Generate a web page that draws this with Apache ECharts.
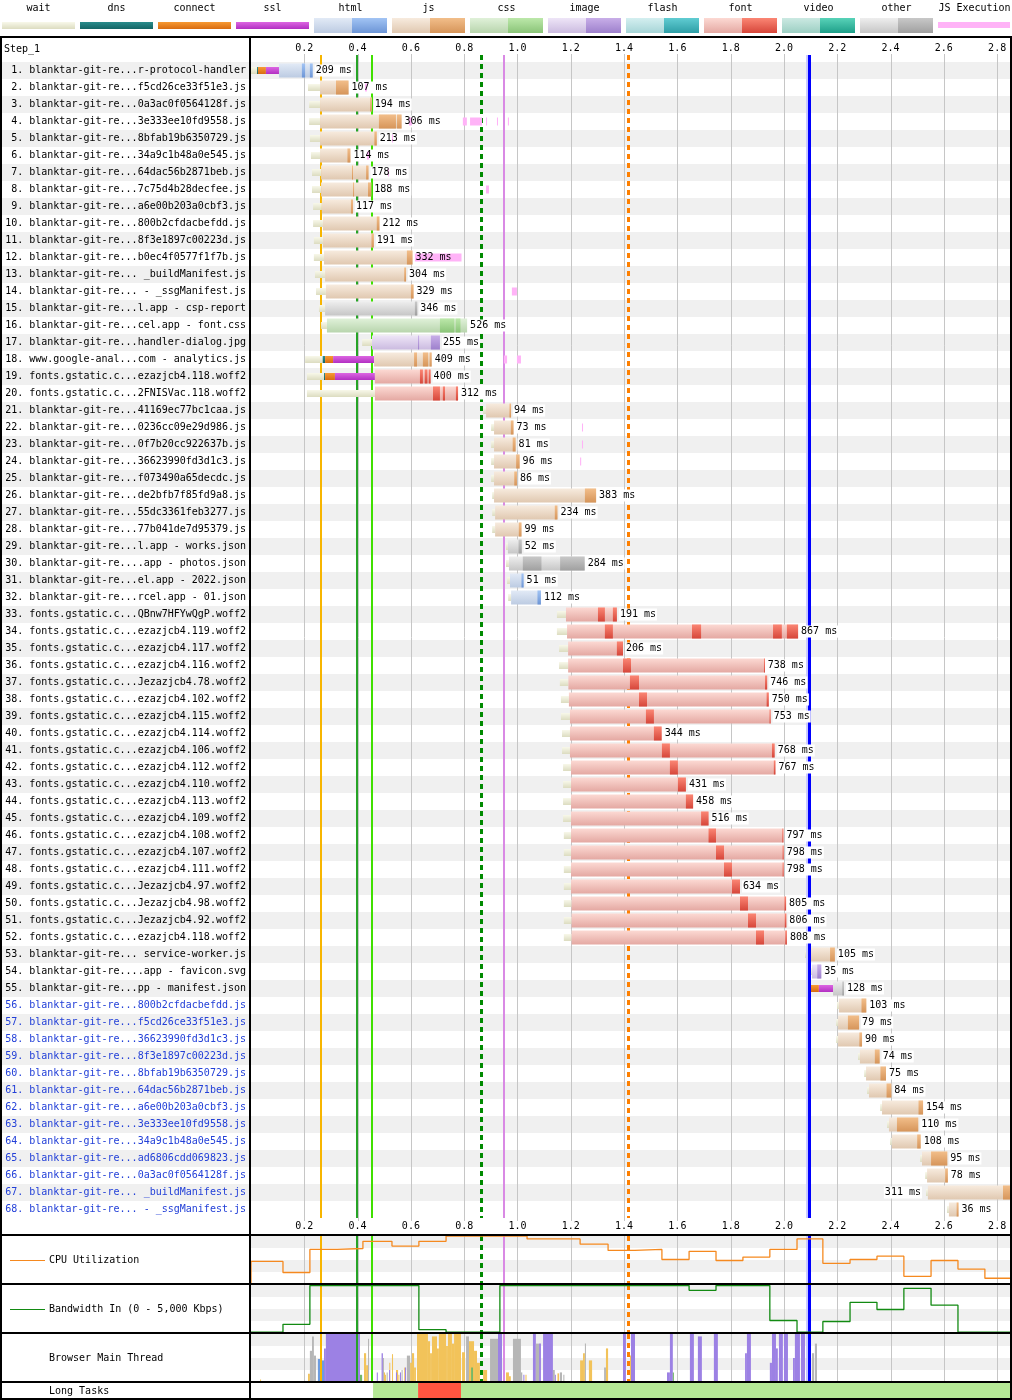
<!DOCTYPE html>
<html><head><meta charset="utf-8">
<script src="https://cdn.jsdelivr.net/npm/echarts@6/dist/echarts.min.js"></script>
<style>html,body{margin:0;padding:0;background:#fff}#c{width:1012px;height:1400px}</style>
</head><body><div id="c"></div><script>
// ---------------- DATA ----------------
const T_MAX = 2.852;
const axisTicks = [0.2,0.4,0.6,0.8,1.0,1.2,1.4,1.6,1.8,2.0,2.2,2.4,2.6,2.8];
const legendNames = ['wait','dns','connect','ssl','html','js','css','image','flash','font','video','other','JS Execution'];

const rowNames = [
 'blanktar-git-re...r-protocol-handler','blanktar-git-re...f5cd26ce33f51e3.js','blanktar-git-re...0a3ac0f0564128f.js',
 'blanktar-git-re...3e333ee10fd9558.js','blanktar-git-re...8bfab19b6350729.js','blanktar-git-re...34a9c1b48a0e545.js',
 'blanktar-git-re...64dac56b2871beb.js','blanktar-git-re...7c75d4b28decfee.js','blanktar-git-re...a6e00b203a0cbf3.js',
 'blanktar-git-re...800b2cfdacbefdd.js','blanktar-git-re...8f3e1897c00223d.js','blanktar-git-re...b0ec4f0577f1f7b.js',
 'blanktar-git-re... _buildManifest.js','blanktar-git-re... - _ssgManifest.js','blanktar-git-re...l.app - csp-report',
 'blanktar-git-re...cel.app - font.css','blanktar-git-re...handler-dialog.jpg','www.google-anal...com - analytics.js',
 'fonts.gstatic.c...ezazjcb4.118.woff2','fonts.gstatic.c...2FNISVac.118.woff2','blanktar-git-re...41169ec77bc1caa.js',
 'blanktar-git-re...0236cc09e29d986.js','blanktar-git-re...0f7b20cc922637b.js','blanktar-git-re...36623990fd3d1c3.js',
 'blanktar-git-re...f073490a65decdc.js','blanktar-git-re...de2bfb7f85fd9a8.js','blanktar-git-re...55dc3361feb3277.js',
 'blanktar-git-re...77b041de7d95379.js','blanktar-git-re...l.app - works.json','blanktar-git-re....app - photos.json',
 'blanktar-git-re...el.app - 2022.json','blanktar-git-re...rcel.app - 01.json','fonts.gstatic.c...QBnw7HFYwQgP.woff2',
 'fonts.gstatic.c...ezazjcb4.119.woff2','fonts.gstatic.c...ezazjcb4.117.woff2','fonts.gstatic.c...ezazjcb4.116.woff2',
 'fonts.gstatic.c...Jezazjcb4.78.woff2','fonts.gstatic.c...ezazjcb4.102.woff2','fonts.gstatic.c...ezazjcb4.115.woff2',
 'fonts.gstatic.c...ezazjcb4.114.woff2','fonts.gstatic.c...ezazjcb4.106.woff2','fonts.gstatic.c...ezazjcb4.112.woff2',
 'fonts.gstatic.c...ezazjcb4.110.woff2','fonts.gstatic.c...ezazjcb4.113.woff2','fonts.gstatic.c...ezazjcb4.109.woff2',
 'fonts.gstatic.c...ezazjcb4.108.woff2','fonts.gstatic.c...ezazjcb4.107.woff2','fonts.gstatic.c...ezazjcb4.111.woff2',
 'fonts.gstatic.c...Jezazjcb4.97.woff2','fonts.gstatic.c...Jezazjcb4.98.woff2','fonts.gstatic.c...Jezazjcb4.92.woff2',
 'fonts.gstatic.c...ezazjcb4.118.woff2','blanktar-git-re... service-worker.js','blanktar-git-re....app - favicon.svg',
 'blanktar-git-re...pp - manifest.json','blanktar-git-re...800b2cfdacbefdd.js','blanktar-git-re...f5cd26ce33f51e3.js',
 'blanktar-git-re...36623990fd3d1c3.js','blanktar-git-re...8f3e1897c00223d.js','blanktar-git-re...8bfab19b6350729.js',
 'blanktar-git-re...64dac56b2871beb.js','blanktar-git-re...a6e00b203a0cbf3.js','blanktar-git-re...3e333ee10fd9558.js',
 'blanktar-git-re...34a9c1b48a0e545.js','blanktar-git-re...ad6806cdd069823.js','blanktar-git-re...0a3ac0f0564128f.js',
 'blanktar-git-re... _buildManifest.js','blanktar-git-re... - _ssgManifest.js'
];
const rowTypes = [
 'html','js','js','js','js','js','js','js','js','js','js','js','js','js','other','css','image','js','font','font',
 'js','js','js','js','js','js','js','js','other','other','html','html',
 'font','font','font','font','font','font','font','font','font','font','font','font','font','font','font','font','font','font','font','font',
 'js','image','other',
 'js','js','js','js','js','js','js','js','js','js','js','js','js'
];
const waitStart = [0.000,0.214,0.218,0.218,0.221,0.225,0.229,0.229,0.233,0.233,0.236,0.236,0.240,0.244,0.255,0.263,0.417,0.203,0.210,0.210,
 0.871,0.901,0.901,0.901,0.901,0.905,0.905,0.905,0.957,0.957,0.961,0.965,
 1.148,1.148,1.156,1.156,1.159,1.163,1.163,1.167,1.167,1.171,1.171,1.171,1.171,1.174,1.174,1.174,1.174,1.174,1.174,1.174,
 2.079,2.100,null,
 2.199,2.196,2.196,2.278,2.301,2.312,2.361,2.387,2.398,2.511,2.530,2.533,2.612];
const startT = [0.0225,0.259,0.259,0.259,0.259,0.259,0.263,0.263,0.266,0.270,0.270,0.274,0.278,0.281,0.278,0.285,0.454,0.269,0.274,0.465,
 0.882,0.912,0.912,0.912,0.912,0.912,0.916,0.916,0.964,0.968,0.972,0.976,
 1.182,1.186,1.190,1.190,1.191,1.193,1.197,1.197,1.197,1.201,1.201,1.201,1.201,1.201,1.201,1.201,1.201,1.203,1.203,1.203,
 2.086,2.105,2.097,
 2.206,2.203,2.203,2.285,2.308,2.319,2.368,2.394,2.405,2.518,2.537,2.540,2.619];
const durMs = [209,107,194,306,213,114,178,188,117,212,191,332,304,329,346,526,255,409,400,312,
 94,73,81,96,86,383,234,99,52,284,51,112,
 191,867,206,738,746,750,753,344,768,767,431,458,516,797,798,798,634,805,806,808,
 105,35,128,
 103,79,90,74,75,84,154,110,108,95,78,311,36];
// [row, dnsStart, connectStart, sslStart, requestStart]
const connPhases = [[1,0.0225,0.026,0.056,0.105],[18,0.269,0.278,0.308,0.462],[19,0.274,0.278,0.315,0.465],[55,2.097,2.099,2.131,2.184]];
// download chunks [row, start, end]
const chunks = [
 [1,0.191,0.203],[1,0.221,0.2315],[2,0.319,0.366],[3,0.447,0.453],[4,0.480,0.544],[4,0.548,0.565],[5,0.463,0.472],
 [6,0.362,0.373],[7,0.379,0.382],[7,0.432,0.441],[8,0.383,0.386],[8,0.439,0.451],[9,0.375,0.383],[10,0.472,0.482],
 [11,0.452,0.461],[12,0.585,0.606],[13,0.575,0.582],[14,0.600,0.610],[15,0.615,0.624],[16,0.709,0.763],[16,0.768,0.786],
 [17,0.627,0.630],[17,0.675,0.709],[18,0.612,0.623],[18,0.645,0.665],[18,0.670,0.678],[19,0.634,0.645],[19,0.652,0.662],
 [19,0.667,0.674],[20,0.683,0.709],[20,0.720,0.728],[20,0.769,0.777],[21,0.970,0.976],[22,0.975,0.985],[23,0.982,0.993],
 [24,0.995,1.008],[25,0.988,0.998],[26,1.253,1.295],[27,1.140,1.150],[28,1.005,1.015],[29,1.004,1.016],[30,1.020,1.090],
 [30,1.160,1.252],[31,1.015,1.023],[32,1.075,1.088],[33,1.302,1.328],[33,1.358,1.373],[34,1.328,1.358],[34,1.655,1.689],
 [34,1.959,1.992],[34,2.011,2.053],[35,1.373,1.396],[36,1.396,1.426],[36,1.925,1.928],[37,1.422,1.456],[37,1.929,1.937],
 [38,1.456,1.486],[38,1.935,1.943],[39,1.482,1.512],[39,1.946,1.950],[40,1.512,1.541],[41,1.542,1.572],[41,1.955,1.965],
 [42,1.572,1.602],[42,1.962,1.968],[43,1.602,1.632],[44,1.632,1.659],[45,1.689,1.717],[46,1.717,1.745],[46,1.994,1.998],
 [47,1.745,1.775],[47,1.995,1.999],[48,1.775,1.805],[48,1.995,1.999],[49,1.805,1.835],[50,1.835,1.865],[50,2.002,2.008],
 [51,1.865,1.895],[51,2.003,2.009],[52,1.895,1.925],[52,2.005,2.011],[53,2.173,2.191],[54,2.125,2.140],[55,2.219,2.225],
 [56,2.291,2.309],[57,2.240,2.282],[58,2.283,2.293],[59,2.341,2.359],[60,2.362,2.383],[61,2.385,2.403],[62,2.505,2.522],
 [63,2.424,2.504],[64,2.500,2.513],[65,2.552,2.613],[66,2.605,2.615],[67,2.822,2.851],[68,2.648,2.655]
];
// JS execution [row, start, end]
const jsExec = [
 [2,0.428,0.435],[4,0.593,0.604],[4,0.795,0.810],[4,0.822,0.867],[4,0.882,0.885],[4,0.923,0.927],[4,0.964,0.968],
 [5,0.529,0.533],[6,0.435,0.443],[7,0.514,0.518],[8,0.882,0.893],[12,0.615,0.790],[14,0.979,0.998],
 [18,0.949,0.961],[18,0.998,1.013],[22,1.242,1.246],[23,1.242,1.246],[24,1.235,1.239]
];
const markerTimes = [0.263,0.398,0.454,0.863,0.949,1.415,2.094];
const blueBand = [2.083,2.094];

const cpuTimes = [0,0.120,0.221,0.323,0.420,0.529,0.630,0.732,0.833,0.934,1.036,1.137,1.235,1.340,1.441,1.542,1.644,1.745,1.846,1.947,2.049,2.146,2.248,2.349,2.450,2.552,2.653,2.754];
const cpuValues = [47,24,72,74,89,79,89,100,100,100,94,94,83,70,72,51,68,49,56,72,94,43,51,58,16,49,31,12];
const bwValues = [2,18,99,99,99,99,7,2,2,99,99,99,99,99,99,99,89,99,99,26,2,24,64,49,93,58,2,2];

// main thread blocks [start, end, percent]
const mtScript = [[0.034,0.0375,5],[0.214,0.221,17],[0.424,0.432,60],[0.432,0.439,35],[0.499,0.503,20],[0.503,0.506,15],
 [0.519,0.522,40],[0.529,0.533,58],[0.544,0.552,25],[0.553,0.556,15],[0.575,0.578,30],[0.597,0.604,40],[0.604,0.612,60],
 [0.612,0.619,30],[0.623,0.664,100],[0.664,0.672,85],[0.672,0.679,60],[0.679,0.698,95],[0.698,0.705,70],[0.705,0.732,100],
 [0.732,0.739,75],[0.739,0.754,100],[0.754,0.762,80],[0.762,0.788,100],[0.792,0.803,62],[0.818,0.837,85],[0.837,0.848,65],
 [0.848,0.859,40],[0.871,0.886,25],[0.957,0.968,20],[0.968,0.975,12],[1.030,1.034,15],[1.150,1.156,18],[1.235,1.246,45],
 [1.246,1.253,60],[1.268,1.280,45],[1.332,1.340,70],[1.422,1.426,55]];
const mtLayout = [[0.274,0.281,70],[0.281,0.409,100],[0.472,0.476,20],[0.490,0.495,60],[0.518,0.522,25],[0.544,0.548,20],
 [0.559,0.563,20],[0.578,0.582,30],[0.927,0.942,100],[1.022,1.026,15],[1.058,1.069,100],[1.081,1.088,80],[1.096,1.133,100],
 [1.140,1.144,15],[1.396,1.407,100],[1.426,1.441,100],[1.561,1.572,20],[1.572,1.583,100],[1.647,1.662,100],[1.677,1.692,95],
 [1.737,1.752,100],[1.854,1.861,60],[1.861,1.876,100],[1.947,1.955,40],[1.955,1.970,100],[1.970,1.977,70],[1.981,1.996,100],
 [2.000,2.015,100],[2.034,2.041,50],[2.041,2.060,100],[2.064,2.079,100],[2.083,2.090,50],[2.094,2.101,40]];
const mtOther = [[0.221,0.229,65],[0.229,0.236,95],[0.236,0.244,55],[0.439,0.443,90],[0.495,0.499,50],[0.509,0.513,20],
 [0.565,0.569,25],[0.585,0.597,55],[0.807,0.818,95],[0.897,0.927,90],[0.983,1.013,90],[1.013,1.018,20],[1.069,1.081,80],
 [1.133,1.140,25],[1.159,1.167,20],[1.172,1.176,15],[1.253,1.257,80],[1.325,1.332,30],[2.105,2.113,60],[2.116,2.124,80]];
const mtParse = [[0.251,0.259,48],[0.259,0.266,100],[0.266,0.274,45]];
const mtPaint = [[0.409,0.417,15],[0.826,0.833,30],[1.583,1.587,20],[2.090,2.094,25]];
const longTasks = [[0.458,0.627,0],[0.627,0.788,1],[0.788,2.852,0]];

// ---------------- STYLE ----------------
const MONO = '"DejaVu Sans Mono", monospace';
const FONT = '10px "DejaVu Sans Mono", monospace';
const typeList = ['html','js','css','image','flash','font','video','other'];
const C = {
 wait:['#f8f8ea','#dcdcc0'], dns:['#2a8c8c','#146666'], connect:['#f79a34','#d86c10'], ssl:['#dc66e2','#b22fc2'],
 html:{l:['#e2eaf6','#bccbe2'], d:['#a2c4f4','#6c95d6']},
 js:{l:['#f7ebde','#e0c8b0'], d:['#f2be8a','#d6955a']},
 css:{l:['#e0f1d9','#b8d5ad'], d:['#bce8aa','#8ac478']},
 image:{l:['#eee5f7','#cbbbe0'], d:['#c8aee8','#9d80cc']},
 flash:{l:['#d4eff0','#a6d5d7'], d:['#60ccd2','#2e9ea6']},
 font:{l:['#fcd9d3','#e4a8a2'], d:['#fb8674','#d6463a']},
 video:{l:['#cbe9e2','#9ccfc3'], d:['#58d2b8','#1e9f89']},
 other:{l:['#eeeeee','#c6c6c6'], d:['#c8c8c8','#a0a0a0']},
 jsexec:'#ffb3f7'
};
const markerColors = ['#f7b500','#26a326','#40e000','#008a00','#d98ae4','#ff8000','#0000ff'];
const markerWidths = [2,2,2,3,2,3,3];
const markerDashed = [false,false,false,true,false,true,false];
const mtColors = {script:'#f2c35a', layout:'#9c81e4', other:'#b6b6b6', parse:'#6c9ce0', paint:'#74b868'};
const ltColors = ['#b5e896','#ff5540'];

function grad(c){ return {type:'linear',x:0,y:0,x2:0,y2:1,colorStops:[{offset:0,color:c[0]},{offset:1,color:c[1]}]}; }

// ---------------- BUILD ----------------
const rowLabels = rowNames.map((n,i)=>(i+1)+'. '+n);
const endT = startT.map((s,i)=>s + durMs[i]/1000);
const connByRow = {}; connPhases.forEach(c=>connByRow[c[0]-1]=c);
const reqStart = startT.map((s,i)=>connByRow[i] ? connByRow[i][4] : s);

const waitData = []; waitStart.forEach((w,i)=>{ if(w!==null) waitData.push([w, startT[i], i]); });
const connData = []; connPhases.forEach(c=>{ connData.push([c[1],c[2],c[0]-1,0]); connData.push([c[2],c[3],c[0]-1,1]); connData.push([c[3],c[4],c[0]-1,2]); });
const reqData = rowNames.map((_,i)=>[reqStart[i], endT[i], i, typeList.indexOf(rowTypes[i])]);
const chunkData = chunks.map(c=>[c[1],c[2],c[0]-1,typeList.indexOf(rowTypes[c[0]-1])]);
const jsData = jsExec.map(j=>[j[1],j[2],j[0]-1]);
const labelData = rowNames.map((_,i)=>[endT[i], i, durMs[i], waitStart[i]!==null?waitStart[i]:startT[i]]);
const markerIdx = markerTimes.map((t,i)=>[t,i]);
const lowMarkers = markerIdx.filter(m=>m[1]!==6);
const topMarkers = markerIdx.filter(m=>m[1]===6);
const gridIdx = axisTicks.map(t=>[t,-1]);

function hRect(api, h, fill){
  const a = api.coord([api.value(0), api.value(2)]);
  const b = api.coord([api.value(1), api.value(2)]);
  return {type:'rect', shape:{x:a[0], y:a[1]-h/2, width:Math.max(b[0]-a[0],1), height:h}, style:{fill}};
}
function labelBox(p, api){
  const row = api.value(1);
  const e = api.coord([api.value(0), row]);
  const txt = api.value(2)+' ms';
  const w = txt.length*6.02;
  let x = e[0]+3;
  if (x + w > p.coordSys.x + p.coordSys.width) x = api.coord([api.value(3), row])[0] - 5 - w;
  return {x, y:e[1], w, txt};
}
function lineStyleFor(i){
  if (i < 0) return {stroke:'#c6c6c6', lineWidth:1};
  return {stroke:markerColors[i], lineWidth:markerWidths[i], lineDash: markerDashed[i]?[5,4]:null};
}
function vLines(gi, data, ext0, ext1, z){
  return {type:'custom', xAxisIndex: gi===0?0:gi+1, yAxisIndex:gi, z, silent:true, clip:false,
    data, encode:{x:0},
    renderItem:(p,api)=>{
      const cs = p.coordSys; const x = Math.round(api.coord([api.value(0),0])[0]);
      const s = lineStyleFor(api.value(1)); const off = s.lineWidth%2 ? 0.5 : 0;
      return {type:'line', shape:{x1:x+off, y1:cs.y-ext0, x2:x+off, y2:cs.y+cs.height+ext1}, style:s};
    }};
}
function bandSeries(gi, ext0, ext1, z){
  return {type:'custom', xAxisIndex: gi===0?0:gi+1, yAxisIndex:gi, z, silent:true, clip:false,
    data:[blueBand], encode:{x:[0,1]},
    renderItem:(p,api)=>{ const cs=p.coordSys; const a=api.coord([api.value(0),0])[0], b=api.coord([api.value(1),0])[0];
      return {type:'rect', shape:{x:a, y:cs.y-ext0, width:b-a, height:cs.height+ext0+ext1}, style:{fill:'#c8c8ff'}}; }};
}
function mtSeries(arr, color){
  return {type:'custom', xAxisIndex:4, yAxisIndex:3, z:4, silent:true, data:arr, encode:{x:[0,1], y:2},
    renderItem:(p,api)=>{ const a=api.coord([api.value(0),0]); const b=api.coord([api.value(1),api.value(2)]);
      return {type:'rect', shape:{x:a[0], y:b[1], width:Math.max(b[0]-a[0],1), height:a[1]-b[1]}, style:{fill:color}}; }};
}

const baseX = {type:'value', min:0, max:T_MAX, interval:0.2, axisLine:{show:false}, axisTick:{show:false}, splitLine:{show:false}, axisLabel:{show:false}};
const tickLabel = {show:true, fontFamily:MONO, fontSize:10, color:'#000', formatter:v=> v===0?'':v.toFixed(1)};
const panelY = gi=>({type:'value', gridIndex:gi, min:0, max:100, interval:25, axisLabel:{show:false}, axisLine:{show:false}, axisTick:{show:false}, splitLine:{show:false}, splitArea:{show:true, areaStyle:{color:['#ffffff','#f0f0f0']}}});

// graphic
const g = [];
legendNames.forEach((n,i)=>{
  const x0 = 2 + 78*i;
  g.push({type:'text', style:{text:n, x:x0+36.5, y:8, font:FONT, fill:'#000', align:'center', verticalAlign:'middle', textAlign:'center', textVerticalAlign:'middle'}});
  if (C[n] && Array.isArray(C[n])) g.push({type:'rect', shape:{x:x0, y:22, width:73, height:7}, style:{fill:grad(C[n])}});
  else if (n==='JS Execution') g.push({type:'rect', shape:{x:x0, y:22, width:72, height:6}, style:{fill:C.jsexec}});
  else { g.push({type:'rect', shape:{x:x0, y:18, width:38, height:15}, style:{fill:grad(C[n].l)}});
         g.push({type:'rect', shape:{x:x0+38, y:18, width:35, height:15}, style:{fill:grad(C[n].d)}}); }
});
g.push({type:'text', style:{text:'Step_1', x:4, y:49, font:FONT, fill:'#000', verticalAlign:'middle', textVerticalAlign:'middle'}});
g.push({type:'line', shape:{x1:10,y1:1260.5,x2:45,y2:1260.5}, style:{stroke:'#f5891f', lineWidth:1}});
g.push({type:'text', style:{text:'CPU Utilization', x:49, y:1260, font:FONT, fill:'#000', verticalAlign:'middle', textVerticalAlign:'middle'}});
g.push({type:'line', shape:{x1:10,y1:1309.5,x2:45,y2:1309.5}, style:{stroke:'#128a12', lineWidth:1}});
g.push({type:'text', style:{text:'Bandwidth In (0 - 5,000 Kbps)', x:49, y:1309, font:FONT, fill:'#000', verticalAlign:'middle', textVerticalAlign:'middle'}});
g.push({type:'text', style:{text:'Browser Main Thread', x:49, y:1358, font:FONT, fill:'#000', verticalAlign:'middle', textVerticalAlign:'middle'}});
g.push({type:'text', style:{text:'Long Tasks', x:49, y:1391, font:FONT, fill:'#000', verticalAlign:'middle', textVerticalAlign:'middle'}});
[[0,36,1012,2],[0,36,2,1364],[1010,36,2,1364],[249,36,2,1364],[0,1234,1012,2],[0,1283,1012,2],[0,1332,1012,2],[0,1381,1012,2],[0,1398,1012,2]]
 .forEach(r=>g.push({type:'rect', z:100, shape:{x:r[0],y:r[1],width:r[2],height:r[3]}, style:{fill:'#000'}}));

const series = [
  {type:'custom', xAxisIndex:0, yAxisIndex:0, z:1, silent:true, clip:false, data:rowNames.map((_,i)=>[0,i]), encode:{x:0,y:1},
   renderItem:(p,api)=>{ const i=api.value(1); if(i%2===1) return {type:'group', children:[]};
     const c=api.coord([0,i]); return {type:'rect', shape:{x:2, y:c[1]-8.5, width:1008, height:17}, style:{fill:'#f0f0f0'}}; }},
  vLines(0, gridIdx, 8, 3, 2),
  vLines(0, lowMarkers, 7, 0, 3),
  {type:'custom', xAxisIndex:0, yAxisIndex:0, z:4, silent:true, data:waitData, encode:{x:[0,1], y:2},
   renderItem:(p,api)=>hRect(api, 7, grad(C.wait))},
  {type:'custom', xAxisIndex:0, yAxisIndex:0, z:4, silent:true, data:connData, encode:{x:[0,1], y:2},
   renderItem:(p,api)=>hRect(api, 7, grad(C[['dns','connect','ssl'][api.value(3)]]))},
  {type:'custom', xAxisIndex:0, yAxisIndex:0, z:5, silent:true, data:reqData, encode:{x:[0,1], y:2},
   renderItem:(p,api)=>hRect(api, 14, grad(C[typeList[api.value(3)]].l))},
  {type:'custom', xAxisIndex:0, yAxisIndex:0, z:6, silent:true, data:chunkData, encode:{x:[0,1], y:2},
   renderItem:(p,api)=>hRect(api, 14, grad(C[typeList[api.value(3)]].d))},
  bandSeries(0, 7, 0, 6.5),
  vLines(0, topMarkers, 7, 0, 6.6),
  {type:'custom', xAxisIndex:0, yAxisIndex:0, z:7, silent:true, clip:false, data:labelData, encode:{x:0, y:1},
   renderItem:(p,api)=>{ const b=labelBox(p,api); return {type:'rect', shape:{x:b.x-1, y:b.y-6, width:b.w+2, height:12}, style:{fill:'#ffffff'}}; }},
  {type:'custom', xAxisIndex:0, yAxisIndex:0, z:8, silent:true, data:jsData, encode:{x:[0,1], y:2},
   renderItem:(p,api)=>hRect(api, 8, C.jsexec)},
  {type:'custom', xAxisIndex:0, yAxisIndex:0, z:9, silent:true, clip:false, data:labelData, encode:{x:0, y:1},
   renderItem:(p,api)=>{ const b=labelBox(p,api); return {type:'text', style:{text:b.txt, x:b.x, y:b.y, font:FONT, fill:'#000', align:'left', verticalAlign:'middle', textAlign:'left', textVerticalAlign:'middle'}}; }},
  // CPU
  vLines(1, gridIdx, 0, 0, 2), bandSeries(1,0,0,3), vLines(1, markerIdx, 0, 0, 3),
  {type:'line', xAxisIndex:2, yAxisIndex:1, z:5, step:'end', showSymbol:false, silent:true, animation:false,
   lineStyle:{color:'#f5891f', width:1.3},
   data:[[0,0]].concat(cpuTimes.map((t,i)=>[t,cpuValues[i]])).concat([[T_MAX, cpuValues[cpuValues.length-1]]])},
  // Bandwidth
  vLines(2, gridIdx, 0, 0, 2), bandSeries(2,0,0,3), vLines(2, markerIdx, 0, 0, 3),
  {type:'line', xAxisIndex:3, yAxisIndex:2, z:5, step:'end', showSymbol:false, silent:true, animation:false,
   lineStyle:{color:'#128a12', width:1.3},
   data:cpuTimes.map((t,i)=>[t,bwValues[i]]).concat([[T_MAX, bwValues[bwValues.length-1]]])},
  // Main thread
  vLines(3, gridIdx, 0, 0, 2),
  mtSeries(mtScript, mtColors.script), mtSeries(mtLayout, mtColors.layout), mtSeries(mtOther, mtColors.other),
  mtSeries(mtParse, mtColors.parse), mtSeries(mtPaint, mtColors.paint),
  bandSeries(3,0,0,5), vLines(3, markerIdx, 0, 0, 6),
  // Long tasks
  {type:'custom', xAxisIndex:5, yAxisIndex:4, z:4, silent:true, data:longTasks, encode:{x:[0,1]},
   renderItem:(p,api)=>{ const cs=p.coordSys; const a=api.coord([api.value(0),0])[0], b=api.coord([api.value(1),0])[0];
     return {type:'rect', shape:{x:a, y:cs.y, width:b-a, height:cs.height}, style:{fill:ltColors[api.value(2)]}}; }}
];

const option = {
  animation:false,
  backgroundColor:'#ffffff',
  grid:[
    {left:251, top:62, width:760, height:1156},
    {left:251, top:1236, width:760, height:48},
    {left:251, top:1285, width:760, height:48},
    {left:251, top:1334, width:760, height:48},
    {left:251, top:1383, width:760, height:16}
  ],
  xAxis:[
    Object.assign({}, baseX, {gridIndex:0, position:'bottom', axisLabel:Object.assign({}, tickLabel, {margin:3})}),
    Object.assign({}, baseX, {gridIndex:0, position:'top', axisLabel:Object.assign({}, tickLabel, {margin:9})}),
    Object.assign({}, baseX, {gridIndex:1}),
    Object.assign({}, baseX, {gridIndex:2}),
    Object.assign({}, baseX, {gridIndex:3}),
    Object.assign({}, baseX, {gridIndex:4})
  ],
  yAxis:[
    {type:'category', gridIndex:0, inverse:true, data:rowLabels, z:10, axisLine:{show:false}, axisTick:{show:false}, splitLine:{show:false},
     axisLabel:{interval:0, margin:5, fontFamily:MONO, fontSize:10, color:(v,i)=> i>=55 ? '#2340d8' : '#000'}},
    panelY(1), panelY(2), panelY(3),
    {type:'value', gridIndex:4, min:0, max:1, show:false}
  ],
  graphic:g,
  series
};
const chart = echarts.init(document.getElementById('c'), null, {renderer:'canvas', width:1012, height:1400});
chart.setOption(option);
</script></body></html>
